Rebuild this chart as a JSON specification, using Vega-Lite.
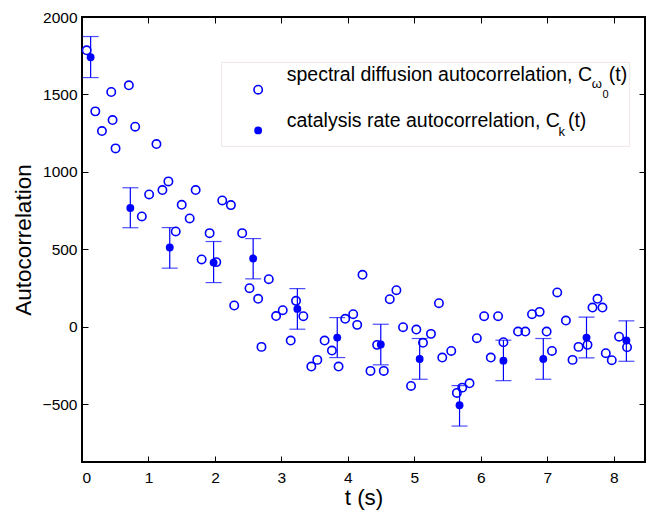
{
  "$schema": "https://vega.github.io/schema/vega-lite/v6.json",
  "width": 563,
  "height": 445,
  "autosize": {"type": "none"},
  "padding": {"left": 82, "top": 17, "right": 1, "bottom": 48},
  "background": "white",
  "config": {
    "font": "Liberation Sans",
    "view": {"stroke": "black", "strokeWidth": 2},
    "axis": {
      "grid": false,
      "domain": false,
      "tickColor": "black",
      "tickWidth": 1,
      "tickSize": -6,
      "labelFont": "Liberation Sans",
      "labelFontSize": 15.5,
      "labelColor": "black",
      "titleFont": "Liberation Sans",
      "titleFontSize": 22.5,
      "titleFontWeight": "normal",
      "titleColor": "black"
    }
  },
  "resolve": {"axis": {"x": "independent", "y": "independent"}},
  "datasets": {
    "spectral": [
      {"t": 0.07, "c": 1785}, {"t": 0.20, "c": 1391}, {"t": 0.30, "c": 1264}, {"t": 0.44, "c": 1516},
      {"t": 0.46, "c": 1335}, {"t": 0.505, "c": 1152}, {"t": 0.705, "c": 1559}, {"t": 0.80, "c": 1292},
      {"t": 0.90, "c": 713}, {"t": 1.01, "c": 855}, {"t": 1.12, "c": 1180}, {"t": 1.21, "c": 883},
      {"t": 1.30, "c": 939}, {"t": 1.41, "c": 616}, {"t": 1.50, "c": 788}, {"t": 1.62, "c": 700},
      {"t": 1.71, "c": 883}, {"t": 1.80, "c": 435}, {"t": 1.92, "c": 605}, {"t": 2.02, "c": 418},
      {"t": 2.11, "c": 816}, {"t": 2.24, "c": 786}, {"t": 2.29, "c": 138}, {"t": 2.41, "c": 605},
      {"t": 2.52, "c": 250}, {"t": 2.65, "c": 181}, {"t": 2.70, "c": -129}, {"t": 2.81, "c": 308},
      {"t": 2.92, "c": 70}, {"t": 3.02, "c": 108}, {"t": 3.14, "c": -88}, {"t": 3.22, "c": 168},
      {"t": 3.33, "c": 69}, {"t": 3.45, "c": -256}, {"t": 3.54, "c": -213}, {"t": 3.65, "c": -88},
      {"t": 3.76, "c": -153}, {"t": 3.86, "c": -256}, {"t": 3.96, "c": 52}, {"t": 4.08, "c": 82},
      {"t": 4.14, "c": 13}, {"t": 4.22, "c": 336}, {"t": 4.34, "c": -284}, {"t": 4.44, "c": -116},
      {"t": 4.54, "c": -284}, {"t": 4.63, "c": 179}, {"t": 4.73, "c": 237}, {"t": 4.83, "c": -2},
      {"t": 4.95, "c": -381}, {"t": 5.03, "c": -17}, {"t": 5.13, "c": -103}, {"t": 5.25, "c": -45},
      {"t": 5.37, "c": 153}, {"t": 5.42, "c": -198}, {"t": 5.555, "c": -155}, {"t": 5.64, "c": -426},
      {"t": 5.72, "c": -392}, {"t": 5.83, "c": -364}, {"t": 5.94, "c": -73}, {"t": 6.05, "c": 69},
      {"t": 6.15, "c": -198}, {"t": 6.26, "c": 69}, {"t": 6.34, "c": -99}, {"t": 6.56, "c": -30},
      {"t": 6.67, "c": -30}, {"t": 6.77, "c": 82}, {"t": 6.885, "c": 97}, {"t": 6.99, "c": -30},
      {"t": 7.07, "c": -155}, {"t": 7.15, "c": 222}, {"t": 7.28, "c": 41}, {"t": 7.38, "c": -213},
      {"t": 7.47, "c": -129}, {"t": 7.605, "c": -116}, {"t": 7.68, "c": 125}, {"t": 7.755, "c": 181},
      {"t": 7.83, "c": 125}, {"t": 7.88, "c": -170}, {"t": 7.97, "c": -215}, {"t": 8.08, "c": -63},
      {"t": 8.20, "c": -131}
    ],
    "catalysis": [
      {"t": 0.13, "c": 1740, "lo": 1609, "hi": 1874},
      {"t": 0.727, "c": 767, "lo": 640, "hi": 898},
      {"t": 1.32, "c": 512, "lo": 379, "hi": 641},
      {"t": 1.98, "c": 415, "lo": 286, "hi": 551},
      {"t": 2.575, "c": 441, "lo": 310, "hi": 570},
      {"t": 3.24, "c": 116, "lo": -15, "hi": 247},
      {"t": 3.84, "c": -69, "lo": -198, "hi": 60},
      {"t": 4.495, "c": -114, "lo": -245, "hi": 17},
      {"t": 5.08, "c": -207, "lo": -338, "hi": -75},
      {"t": 5.68, "c": -506, "lo": -640, "hi": -379},
      {"t": 6.34, "c": -218, "lo": -347, "hi": -86},
      {"t": 6.94, "c": -207, "lo": -338, "hi": -75},
      {"t": 7.59, "c": -69, "lo": -200, "hi": 63},
      {"t": 8.19, "c": -88, "lo": -222, "hi": 39}
    ],
    "legendBox": [{"t": 2.10, "t2": 8.24, "c": 1707, "c2": 1165}],
    "legendOpen": [{"t": 2.65, "c": 1531}],
    "legendFilled": [{"t": 2.65, "c": 1268}],
    "legendMain": [
      {"t": 3.08, "c": 1585, "label": "spectral diffusion autocorrelation, C"},
      {"t": 3.08, "c": 1290, "label": "catalysis rate autocorrelation, C"},
      {"t": 7.925, "c": 1585, "label": "(t)"},
      {"t": 7.31, "c": 1290, "label": "(t)"}
    ],
    "legendSub": [
      {"t": 7.67, "c": 1541, "label": "ω"},
      {"t": 7.17, "c": 1231, "label": "k"}
    ],
    "legendSub2": [
      {"t": 7.83, "c": 1477, "label": "0"}
    ]
  },
  "layer": [
    {
      "data": {"name": "legendBox"},
      "mark": {"type": "rect", "fill": "white", "stroke": "#efe4e4", "strokeWidth": 1},
      "encoding": {
        "x": {"field": "t", "type": "quantitative", "scale": {"domain": [0, 8.47], "nice": false, "zero": false},
              "axis": {"orient": "top", "values": [1, 2, 3, 4, 5, 6, 7, 8], "labels": false, "title": null}},
        "x2": {"field": "t2"},
        "y": {"field": "c", "type": "quantitative", "scale": {"domain": [-872, 2000], "nice": false, "zero": false},
              "axis": {"orient": "right", "values": [-500, 0, 500, 1000, 1500, 2000], "labels": false, "title": null}},
        "y2": {"field": "c2"}
      }
    },
    {
      "data": {"name": "catalysis"},
      "mark": {"type": "rule", "color": "#0000ff", "strokeWidth": 1.2},
      "encoding": {
        "x": {"field": "t", "type": "quantitative",
              "axis": {"orient": "bottom", "values": [0, 1, 2, 3, 4, 5, 6, 7, 8], "labelPadding": 14, "title": "t (s)", "titlePadding": 1}},
        "y": {"field": "lo", "type": "quantitative",
              "axis": {"orient": "left", "values": [-500, 0, 500, 1000, 1500, 2000], "labelPadding": 11, "format": "d", "title": "Autocorrelation", "titlePadding": 7}},
        "y2": {"field": "hi"}
      }
    },
    {
      "data": {"name": "catalysis"},
      "mark": {"type": "tick", "orient": "horizontal", "color": "#0000ff", "size": 16, "thickness": 1.2},
      "encoding": {
        "x": {"field": "t", "type": "quantitative", "axis": null},
        "y": {"field": "lo", "type": "quantitative", "axis": null}
      }
    },
    {
      "data": {"name": "catalysis"},
      "mark": {"type": "tick", "orient": "horizontal", "color": "#0000ff", "size": 16, "thickness": 1.2},
      "encoding": {
        "x": {"field": "t", "type": "quantitative", "axis": null},
        "y": {"field": "hi", "type": "quantitative", "axis": null}
      }
    },
    {
      "data": {"name": "spectral"},
      "mark": {"type": "point", "shape": "circle", "filled": false, "stroke": "#0000ff", "strokeWidth": 1.6, "size": 70, "opacity": 1},
      "encoding": {
        "x": {"field": "t", "type": "quantitative", "axis": null},
        "y": {"field": "c", "type": "quantitative", "axis": null}
      }
    },
    {
      "data": {"name": "catalysis"},
      "mark": {"type": "circle", "color": "#0000ff", "size": 62, "opacity": 1},
      "encoding": {
        "x": {"field": "t", "type": "quantitative", "axis": null},
        "y": {"field": "c", "type": "quantitative", "axis": null}
      }
    },
    {
      "data": {"name": "legendOpen"},
      "mark": {"type": "point", "shape": "circle", "filled": false, "stroke": "#0000ff", "strokeWidth": 1.6, "size": 70, "opacity": 1},
      "encoding": {
        "x": {"field": "t", "type": "quantitative", "axis": null},
        "y": {"field": "c", "type": "quantitative", "axis": null}
      }
    },
    {
      "data": {"name": "legendFilled"},
      "mark": {"type": "circle", "color": "#0000ff", "size": 62, "opacity": 1},
      "encoding": {
        "x": {"field": "t", "type": "quantitative", "axis": null},
        "y": {"field": "c", "type": "quantitative", "axis": null}
      }
    },
    {
      "data": {"name": "legendMain"},
      "mark": {"type": "text", "align": "left", "baseline": "alphabetic", "font": "Liberation Sans", "fontSize": 19.5, "color": "black"},
      "encoding": {
        "x": {"field": "t", "type": "quantitative", "axis": null},
        "y": {"field": "c", "type": "quantitative", "axis": null},
        "text": {"field": "label"}
      }
    },
    {
      "data": {"name": "legendSub"},
      "mark": {"type": "text", "align": "left", "baseline": "alphabetic", "font": "Liberation Sans", "fontSize": 13, "color": "black"},
      "encoding": {
        "x": {"field": "t", "type": "quantitative", "axis": null},
        "y": {"field": "c", "type": "quantitative", "axis": null},
        "text": {"field": "label"}
      }
    },
    {
      "data": {"name": "legendSub2"},
      "mark": {"type": "text", "align": "left", "baseline": "alphabetic", "font": "Liberation Sans", "fontSize": 11, "color": "black"},
      "encoding": {
        "x": {"field": "t", "type": "quantitative", "axis": null},
        "y": {"field": "c", "type": "quantitative", "axis": null},
        "text": {"field": "label"}
      }
    }
  ]
}
